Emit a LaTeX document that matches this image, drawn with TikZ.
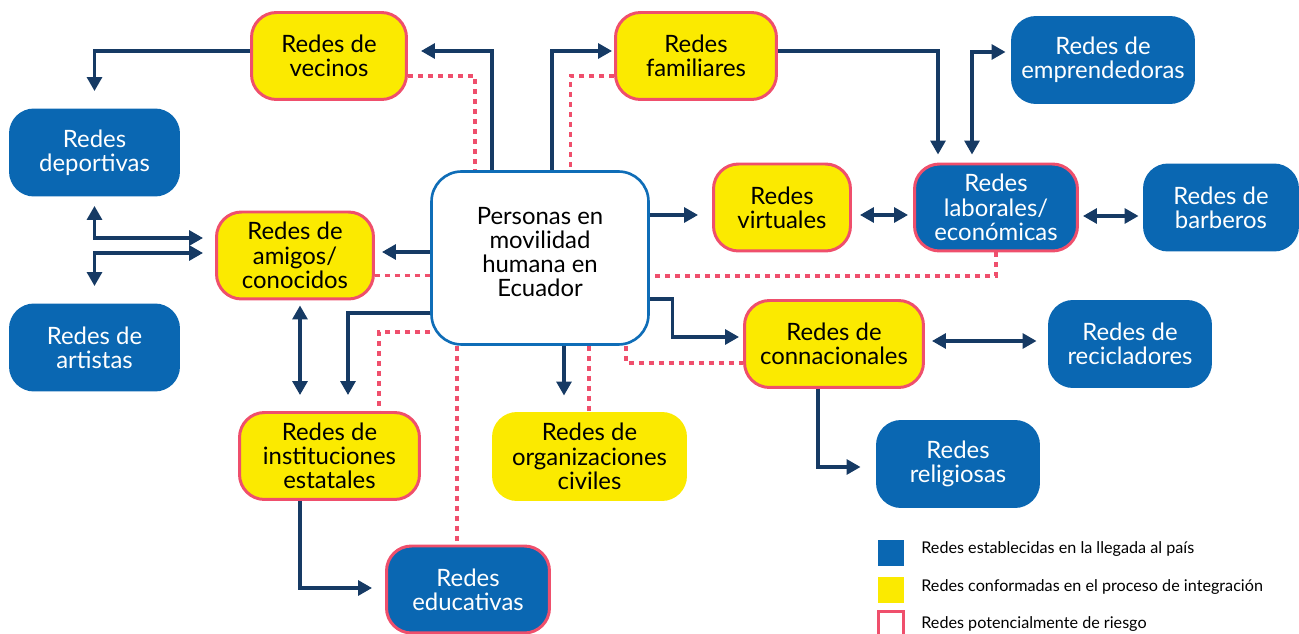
\documentclass[tikz,border=0pt]{standalone}
\usepackage{fontspec}
\setmainfont{Lato}
\usetikzlibrary{arrows.meta}
\definecolor{azul}{HTML}{0A67B2}
\definecolor{amarillo}{HTML}{FBEA00}
\definecolor{rojo}{HTML}{EF4F6C}
\definecolor{marino}{HTML}{163A64}
\definecolor{borde}{HTML}{0F6DB7}
\begin{document}
\begin{tikzpicture}[x=0.02cm,y=-0.02cm,
  caja/.style={rounded corners=0.5cm, minimum height=1.74cm, inner sep=0pt, align=center, line width=1.7pt, font=\fontsize{13.6}{13.8}\selectfont},
  amar/.style={caja, fill=amarillo, text=black},
  azu/.style={caja, fill=azul, text=white},
  riesgo/.style={draw=rojo},
  flecha/.style={draw=marino, line width=1.8pt, -{Triangle[length=0.28cm,width=0.3cm]}},
  doble/.style={flecha, {Triangle[length=0.28cm,width=0.3cm]}-{Triangle[length=0.28cm,width=0.3cm]}},
  punt/.style={draw=rojo, line width=1.8pt, dash pattern=on 0.1cm off 0.1cm}]
\useasboundingbox (0,0) rectangle (1299,634);
\clip (0,0) rectangle (1299,634);
\scriptsize

\node[caja, draw=borde, fill=white, line width=1.5pt, rounded corners=0.6cm, minimum width=4.34cm, minimum height=3.46cm, text depth=0.24cm] (personas) at (540,258) {Personas en\\movilidad\\humana en\\Ecuador};

\foreach \n/\x/\y/\w/\t in {vecinos/329/56/3.10/{Redes de\\vecinos}, familiares/696/56/3.22/{Redes\\familiares}, amigos/295/255.5/3.14/{Redes de\\amigos/\\conocidos}, virtuales/782/207.5/2.74/{Redes\\virtuales}, connacionales/834/344/3.58/{Redes de\\connacionales}, instituciones/329.5/456/3.60/{Redes de\\instituciones\\estatales}}
{
	\node[amar, riesgo, minimum width=\w cm] (\n) at (\x,\y) {\t};
}
\node[amar, minimum width=3.90cm, minimum height=1.78cm] (organizaciones) at (589.5,456.5) {Redes de\\organizaciones\\civiles};

\foreach \n/\x/\y/\w/\t in {laborales/996/207.5/3.26/{Redes\\laborales/\\económicas}, educativas/468/589.5/3.26/{Redes\\educativas}}
{
	\node[azu, riesgo, minimum width=\w cm] (\n) at (\x,\y) {\t};
}
\foreach \n/\x/\y/\w/\t in {emprendedoras/1103/60/3.68/{Redes de\\emprendedoras}, deportivas/94.5/152.5/3.42/{Redes\\deportivas}, artistas/94.5/347.5/3.42/{Redes de\\artistas}, barberos/1221/207.5/3.12/{Redes de\\barberos}, recicladores/1130/344/3.28/{Redes de\\recicladores}, religiosas/958/464/3.28/{Redes\\religiosas}}
{
	\node[azu, minimum width=\w cm, minimum height=1.76cm] (\n) at (\x,\y) {\t};
}

% flechas
\draw[flecha, shorten >=0.26cm] ([xshift=-0.96cm]personas.north) |- ([yshift=0.1cm]vecinos.east);
\draw[flecha, shorten >=0.04cm] ([xshift=0.24cm]personas.north) |- ([yshift=0.1cm]familiares.west);
\draw[flecha, shorten >=0.32cm] ([yshift=0.1cm]vecinos.west) -| (deportivas.north);
\draw[flecha, shorten >=0.16cm] ([yshift=0.1cm]familiares.east) -| ([xshift=-1.16cm]laborales.north);
\draw[doble, shorten <=0.16cm, shorten >=0.08cm] ([xshift=-0.48cm]laborales.north) |- ([yshift=0.16cm]emprendedoras.west);
\draw[flecha, shorten >=0.28cm] ([yshift=-0.15cm]virtuales.west -| personas.east) -- ([yshift=-0.15cm]virtuales.west);
\draw[doble, shorten <=0.16cm, shorten >=0.1cm] ([yshift=-0.15cm]virtuales.east) -- ([yshift=-0.15cm]laborales.west);
\draw[doble, shorten <=0.08cm, shorten >=0.06cm] ([yshift=-0.17cm]laborales.east) -- ([yshift=-0.17cm]barberos.west);
\draw[flecha, shorten >=0.14cm] ([yshift=0.07cm]amigos.east -| personas.west) -- ([yshift=0.07cm]amigos.east);
\draw[doble, shorten <=0.16cm, shorten >=0.24cm] (deportivas.south) |- ([yshift=0.35cm]amigos.west);
\draw[doble, shorten <=0.32cm, shorten >=0.24cm] (artistas.north) |- ([yshift=0.05cm]amigos.west);
\draw[doble, shorten <=0.1cm, shorten >=0.32cm] ([xshift=0.1cm]amigos.south) -- ([xshift=0.1cm]amigos.south |- instituciones.north);
\draw[flecha, shorten >=0.32cm] ([yshift=-1.1cm]personas.west) -| ([xshift=0.37cm]instituciones.north);
\draw[flecha, shorten >=0.08cm] ([yshift=-0.82cm]personas.east) -- ++(23,0) |- ([yshift=0.14cm]connacionales.west);
\draw[flecha, shorten >=0.3cm] ([xshift=0.48cm]personas.south) -- ([xshift=0.48cm]personas.south |- organizaciones.north);
\draw[doble, shorten <=0.14cm, shorten >=0.2cm] ([yshift=0.06cm]connacionales.east) -- ([yshift=0.06cm]recicladores.west);
\draw[flecha, shorten >=0.28cm] ([xshift=-0.32cm]connacionales.south) |- ([yshift=-0.06cm]religiosas.west);
\draw[flecha, shorten >=0.26cm] ([xshift=-0.59cm]instituciones.south) |- ([yshift=0.03cm]educativas.west);

% riesgo
\draw[punt] ([yshift=-0.4cm]vecinos.east) -| ([xshift=-1.3cm]personas.north);
\draw[punt] ([yshift=-0.4cm]familiares.west) -| ([xshift=0.61cm]personas.north);
\draw[punt] ([yshift=-0.4cm]amigos.east) -- ([yshift=-0.4cm]amigos.east -| personas.west);
\draw[punt] (laborales.south) |- ([yshift=-0.36cm]personas.east);
\draw[punt] ([yshift=-1.48cm]personas.west) -| ([xshift=0.99cm]instituciones.north);
\draw[punt] ([xshift=-1.66cm]personas.south) -- ([xshift=-1.66cm]personas.south |- educativas.north);
\draw[punt] ([xshift=0.98cm]personas.south) -- ([xshift=0.98cm]personas.south |- organizaciones.north);
\draw[punt] ([xshift=1.72cm]personas.south) |- ([yshift=-0.38cm]connacionales.west);

% leyenda
\node[fill=azul, minimum size=0.52cm, inner sep=0pt] (leyazul) at (891,553) {};
\node[fill=amarillo, minimum size=0.52cm, inner sep=0pt] (leyamar) at (891,590) {};
\node[draw=rojo, line width=1.2pt, minimum size=0.5cm, inner sep=0pt] (leyrojo) at (891,624) {};
\node[anchor=base west, inner sep=0pt, font=\fontsize{9.2}{10}\selectfont] (txtazul) at (921,554) {Redes establecidas en la llegada al país};
\node[anchor=base west, inner sep=0pt, font=\fontsize{9.2}{10}\selectfont] (txtamar) at (921,592) {Redes conformadas en el proceso de integración};
\node[anchor=base west, inner sep=0pt, font=\fontsize{9.2}{10}\selectfont] (txtrojo) at (921,629) {Redes potencialmente de riesgo};
\end{tikzpicture}
\end{document}
